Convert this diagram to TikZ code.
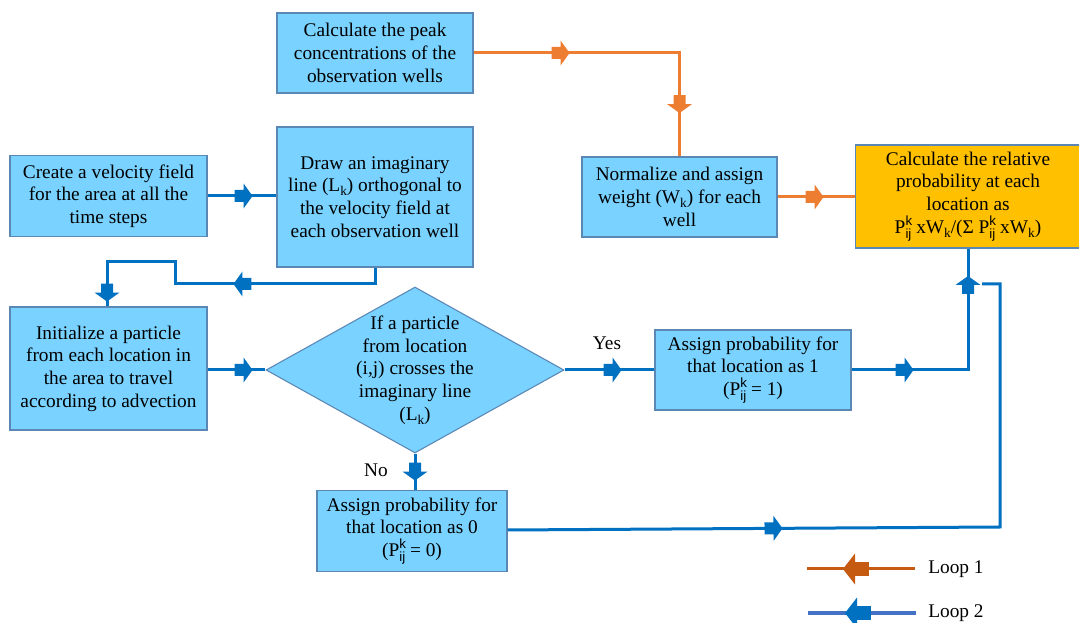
\documentclass[tikz,border=0pt]{standalone}
\usepackage{fontspec}
\setmainfont{Liberation Serif}
\setsansfont{Liberation Sans}
\usetikzlibrary{shapes.geometric,decorations.markings}

\definecolor{boxblue}{HTML}{79D2FF}
\definecolor{boxline}{HTML}{5B87B5}
\definecolor{boxorange}{HTML}{FFC000}
\definecolor{lineblue}{HTML}{0070C0}
\definecolor{lineorange}{HTML}{ED7D31}
\definecolor{legorange}{HTML}{C55A11}
\definecolor{legblue}{HTML}{4472C4}

% font and sub/superscript helpers
\newcommand\mainsize{\fontsize{14.5}{17}\selectfont}
\newcommand\subk{\raisebox{-0.45ex}{\fontsize{10}{10}\selectfont k}}
\newcommand\Pkij{P\rlap{\raisebox{0.85ex}{\sffamily\fontsize{10}{10}\selectfont k}}\raisebox{-0.6ex}{\sffamily\fontsize{10}{10}\selectfont ij}}

% block arrow head placed on connectors (junction of tail and head at origin)
\newcommand\blockarrow[1]{\fill[#1] (-6.75pt,-4.5pt) -- (0pt,-4.5pt) -- (0pt,-9.4pt) -- (6.75pt,0pt) -- (0pt,9.4pt) -- (0pt,4.5pt) -- (-6.75pt,4.5pt) -- cycle;}
\newcommand\bigblockarrow[1]{\fill[#1] (-10.5pt,-5.6pt) -- (0pt,-5.6pt) -- (0pt,11.6pt) -- (9pt,0pt) -- (0pt,-11.6pt) -- (0pt,5.6pt) -- (-10.5pt,5.6pt) -- cycle;}

\pgfkeys{
  /pgf/decoration/bat/.style={mark=at position #1 with {\blockarrow{lineblue}}},
  /pgf/decoration/oat/.style={mark=at position #1 with {\blockarrow{lineorange}}},
  /pgf/decoration/lbat/.style={mark=at position #1 with {\fill[lineblue] (-10.5pt,-5.6pt) rectangle (0pt,5.6pt); \fill[lineblue] (0pt,-11.6pt) -- (9pt,0pt) -- (0pt,11.6pt) -- cycle;}},
  /pgf/decoration/loat/.style={mark=at position #1 with {\fill[legorange] (-10.5pt,-5.6pt) rectangle (0pt,5.6pt); \fill[legorange] (0pt,-11.6pt) -- (9pt,0pt) -- (0pt,11.6pt) -- cycle;}},
}

\tikzset{
  box/.style={draw=boxline, fill=boxblue, line width=0.8pt, align=center,
    inner sep=0pt, font=\mainsize},
  decbox/.style={draw=boxline, fill=boxblue, line width=0.8pt, shape=diamond,
    inner sep=0pt},
  conB/.style={draw=lineblue, line width=2.25pt},
  conO/.style={draw=lineorange, line width=2.25pt},
  marks/.style={postaction={decorate, decoration={markings, #1}}},
  lbl/.style={font=\mainsize, inner sep=0pt},
}

\begin{document}
\begin{tikzpicture}[x=0.75pt, y=-0.75pt]
\useasboundingbox (0,0) rectangle (1079,623);

% process boxes
\node[box, minimum width=196*0.75pt, minimum height=80*0.75pt] (peak) at (375,53)
  {Calculate the peak\\concentrations of the\\observation wells};
\node[box, minimum width=197*0.75pt, minimum height=81*0.75pt] (velo) at (108.5,196)
  {Create a velocity field\\for the area at all the\\time steps};
\node[box, minimum width=196*0.75pt, minimum height=140*0.75pt] (line) at (375,197)
  {Draw an imaginary\\line (L\subk) orthogonal to\\the velocity field at\\each observation well};
\node[box, minimum width=195*0.75pt, minimum height=80*0.75pt] (norm) at (679.5,197)
  {Normalize and assign\\weight (W\subk) for each\\well};
\node[box, fill=boxorange, minimum width=225*0.75pt, minimum height=103*0.75pt] (rel) at (968,196.5)
  {Calculate the relative\\probability at each\\location as\\\Pkij{} xW\subk/(\symbol{"03A3} \Pkij{} xW\subk)};
\node[box, minimum width=197*0.75pt, minimum height=123*0.75pt] (init) at (108.5,368.5)
  {Initialize a particle\\from each location in\\the area to travel\\according to advection};
\node[decbox, minimum width=298*0.75pt, minimum height=166*0.75pt] (dec) at (415,370) {};
\node[lbl, align=center] (dectext) at (dec.center)
  {If a particle\\from location\\(i,j) crosses the\\imaginary line\\(L\subk)};
\node[box, minimum width=196*0.75pt, minimum height=80*0.75pt] (yes) at (753,370)
  {Assign probability for\\that location as 1\\(\Pkij{} = 1)};
\node[box, minimum width=190*0.75pt, minimum height=81*0.75pt] (no) at (412,531)
  {Assign probability for\\that location as 0\\(\Pkij{} = 0)};

% branch labels
\node[lbl] (yeslbl) at (607,343) {Yes};
\node[lbl] (nolbl) at (376,470) {No};

% bend points of the routed connectors
\coordinate (c4a) at (375,284);
\coordinate (c4b) at (175,284);
\coordinate (c4c) at (175,262);
\coordinate (c4d) at (107,262);
\coordinate (c9a) at (1000,527);
\coordinate (c9b) at (1000,284);
\coordinate (c9c) at (982,284);

% loop 1 (orange)
\draw[conO, marks={oat=65.25pt, oat=192.75pt}] (peak.east) -| (norm.north);
\draw[conO, marks={oat=27.75pt}] (norm.east) -- (rel.west |- norm.east);

% loop 2 (blue)
\draw[conB, marks={bat=27pt}] (velo.east) -- (line.west |- velo.east);
\draw[conB, marks={bat=111.75pt, bat=252.75pt}] (line.south) -- (c4a) -- (c4b) -- (c4c) -- (c4d) -- (c4d |- init.north);
\draw[conB, marks={bat=27pt}] (init.east |- dec.west) -- (dec.west);
\draw[conB, marks={bat=36pt}] (dec.east) -- (yes.west);
\draw[conB, marks={bat=39.75pt, bat=151.1pt}] (yes.east) -| (rel.south);
\draw[conB, marks={bat=13.5pt}] (dec.south) -- (dec.south |- no.north);
\draw[conB, marks={bat=199.5pt}] (no.east |- 0,530) -- (c9a) -- (c9b) -- (c9c);

% legend
\coordinate (l1a) at (915,569);
\coordinate (l1b) at (807,569);
\coordinate (l2a) at (916,613);
\coordinate (l2b) at (808,613);
\draw[draw=legorange, line width=2.25pt, marks={loat=45pt}] (l1a) -- (l1b);
\draw[draw=legblue, line width=2.25pt, marks={lbat=44.25pt}] (l2a) -- (l2b);
\node[lbl, anchor=west] (loop1) at (928,569) {Loop 1};
\node[lbl, anchor=west] (loop2) at (928,613) {Loop 2};
\end{tikzpicture}
\end{document}
